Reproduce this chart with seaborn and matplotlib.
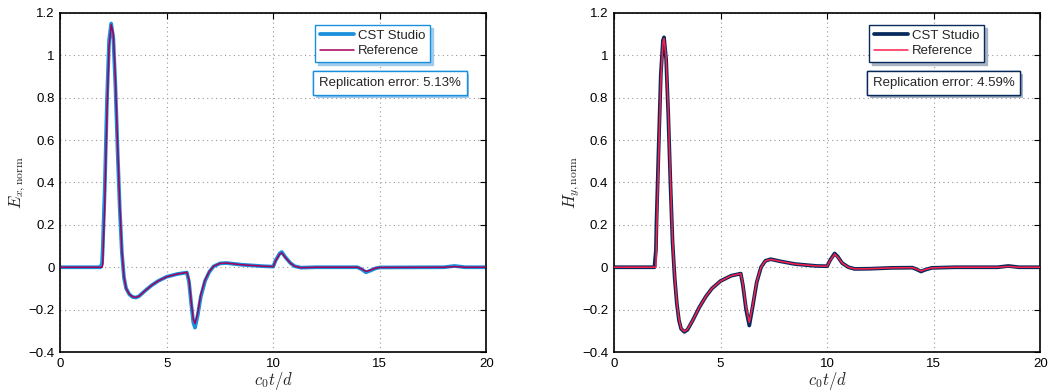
import matplotlib
matplotlib.use('Agg')
import matplotlib.pyplot as plt
import matplotlib.patheffects as pe
from matplotlib.ticker import FuncFormatter, MultipleLocator
import seaborn as sns
import pandas as pd

# E_x panel
t_ex = [0, 1.9, 1.97, 2.0, 2.1, 2.2, 2.3, 2.4, 2.5, 2.6, 2.7, 2.8, 2.9, 3.0, 3.1, 3.25,
        3.4, 3.55, 3.7, 4.0, 4.3, 4.6, 5.0, 5.5, 5.95, 6.05, 6.15, 6.25, 6.33, 6.45, 6.6, 6.8,
        7.0, 7.2, 7.5, 7.8, 8.5, 9.5, 10.0, 10.1, 10.3, 10.4, 10.55, 10.8, 11.0, 11.3,
        12.0, 13.95, 14.15, 14.35, 14.55, 14.8, 15.0, 18.0, 18.5, 19.0, 20]
ex_cst = [0, 0, 0.02, 0.08, 0.38, 0.78, 1.07, 1.15, 1.08, 0.85, 0.55, 0.28, 0.07, -0.05,
          -0.10, -0.128, -0.14, -0.143, -0.137, -0.11, -0.085, -0.065, -0.045, -0.032, -0.025,
          -0.07, -0.17, -0.26, -0.285, -0.23, -0.14, -0.065, -0.022, 0.004, 0.018, 0.02,
          0.012, 0.005, 0.003, 0.03, 0.065, 0.072, 0.05, 0.02, 0.005, -0.002, 0, 0.0,
          -0.01, -0.024, -0.016, -0.005, -0.001, 0.0, 0.006, 0.0, 0]
ex_ref = [0, 0, 0, 0.01, 0.3, 0.72, 1.04, 1.145, 1.1, 0.88, 0.58, 0.3, 0.08, -0.045,
          -0.10, -0.127, -0.139, -0.142, -0.137, -0.11, -0.085, -0.065, -0.045, -0.032, -0.024,
          -0.06, -0.16, -0.245, -0.265, -0.22, -0.13, -0.06, -0.02, 0.005, 0.018, 0.02,
          0.012, 0.005, 0.003, 0.028, 0.062, 0.068, 0.048, 0.02, 0.005, -0.002, 0, 0.0,
          -0.008, -0.02, -0.014, -0.004, -0.001, 0.0, 0.003, 0.0, 0]

# H_y panel
t_hy = [0, 1.9, 1.97, 2.0, 2.1, 2.2, 2.3, 2.35, 2.45, 2.55, 2.65, 2.75, 2.85, 2.95, 3.05,
        3.15, 3.3, 3.45, 3.7, 4.0, 4.3, 4.6, 5.0, 5.5, 5.95, 6.05, 6.2, 6.35, 6.5, 6.7,
        6.9, 7.1, 7.35, 7.8, 8.5, 9.5, 10.0, 10.15, 10.35, 10.5, 10.7, 11.0, 11.3, 12.0,
        13.0, 14.0, 14.2, 14.4, 14.6, 14.9, 16.0, 18.0, 18.5, 19.0, 20]
hy_cst = [0, 0, 0.08, 0.22, 0.57, 0.91, 1.07, 1.085, 0.98, 0.72, 0.4, 0.12, -0.05, -0.17,
          -0.25, -0.29, -0.305, -0.295, -0.25, -0.19, -0.14, -0.1, -0.065, -0.04, -0.03,
          -0.085, -0.2, -0.275, -0.19, -0.07, 0.0, 0.03, 0.038, 0.028, 0.015, 0.006,
          0.005, 0.035, 0.065, 0.05, 0.02, 0.0, -0.008, -0.007, -0.003, -0.002, -0.01,
          -0.02, -0.012, -0.003, 0.0, 0.0, 0.006, 0.0, 0]
hy_ref = [0, 0, 0, 0.15, 0.52, 0.88, 1.06, 1.08, 0.99, 0.74, 0.42, 0.13, -0.045, -0.165,
          -0.245, -0.288, -0.303, -0.293, -0.25, -0.19, -0.14, -0.1, -0.065, -0.04, -0.03,
          -0.08, -0.19, -0.26, -0.185, -0.068, 0.0, 0.03, 0.037, 0.028, 0.015, 0.006,
          0.005, 0.033, 0.062, 0.048, 0.02, 0.0, -0.008, -0.007, -0.003, -0.002, -0.009,
          -0.018, -0.011, -0.003, 0.0, 0.0, 0.004, 0.0, 0]

panels = [
    dict(t=t_ex, cst=ex_cst, ref=ex_ref, ylabel=r'$E_{x,\mathrm{norm}}$',
         err='Replication error: 5.13%', c_cst='#1a8fdc', c_ref='#a3005c', c_sh='#9fcbee'),
    dict(t=t_hy, cst=hy_cst, ref=hy_ref, ylabel=r'$H_{y,\mathrm{norm}}$',
         err='Replication error: 4.59%', c_cst='#062a5c', c_ref='#ff1f4b', c_sh='#a9b3c2'),
]


def fmt(v, _):
    if abs(v) < 1e-9:
        return '0'
    s = '%g' % round(v, 2)
    return s.replace('-', '\u2212')


sns.set_style('white')
plt.rcParams['font.family'] = ['Liberation Sans', 'DejaVu Sans']
plt.rcParams['mathtext.fontset'] = 'cm'

fig = plt.figure(figsize=(10.53, 3.92), dpi=100)
lefts = [0.057, 0.583]

for p, left in zip(panels, lefts):
    ax = fig.add_axes([left, 0.102, 0.405, 0.865])
    df = pd.DataFrame({'t': p['t'], 'cst': p['cst'], 'ref': p['ref']})
    sns.lineplot(data=df, x='t', y='cst', ax=ax, color=p['c_cst'], linewidth=2.7,
                 label='CST Studio', zorder=2)
    sns.lineplot(data=df, x='t', y='ref', ax=ax, color=p['c_ref'], linewidth=1.1,
                 label='Reference', zorder=3)
    ax.set_xlim(0, 20)
    ax.set_ylim(-0.4, 1.2)
    ax.xaxis.set_major_locator(MultipleLocator(5))
    ax.yaxis.set_major_locator(MultipleLocator(0.2))
    ax.yaxis.set_major_formatter(FuncFormatter(fmt))
    ax.grid(True, linestyle=(0, (1, 3)), color='#999999', linewidth=0.8)
    ax.tick_params(direction='in', top=True, right=True, length=4, width=0.8,
                   labelsize=9.5, colors='black', pad=4)
    for s in ax.spines.values():
        s.set_color('black')
        s.set_linewidth(1.2)
    ax.set_xlabel(r'$c_0t/d$', fontsize=12, labelpad=0)
    ax.set_ylabel(p['ylabel'], fontsize=12, labelpad=0)

    leg = ax.legend(loc='upper left', bbox_to_anchor=(0.598, 0.965), fontsize=9.5,
                    frameon=True, fancybox=False,
                    shadow={'color': p['c_sh'], 'alpha': 1.0, 'ox': 2, 'oy': -2},
                    handlelength=2.6, handletextpad=0.3, borderpad=0.35,
                    labelspacing=0.25, borderaxespad=0)
    leg.get_frame().set_edgecolor(p['c_cst'])
    leg.get_frame().set_linewidth(1.0)

    txt = ax.text(0.607, 0.794, p['err'], transform=ax.transAxes, fontsize=9.5,
                  va='center', ha='left', zorder=5,
                  bbox=dict(boxstyle='square,pad=0.45', fc='white', ec=p['c_cst'], lw=1.0))
    txt.get_bbox_patch().set_path_effects(
        [pe.withSimplePatchShadow(offset=(2, -2), shadow_rgbFace=p['c_sh'], alpha=1.0), pe.Normal()])

fig.savefig('out.png', dpi=100)
